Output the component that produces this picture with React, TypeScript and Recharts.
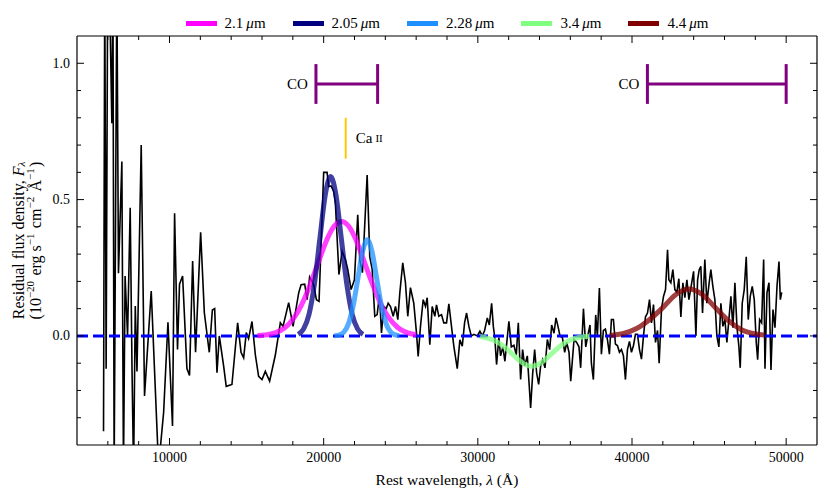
import React from 'react';
import { LineChart, Line, XAxis, YAxis, ReferenceLine, Legend } from 'recharts';

const FONT = 'Liberation Serif';

// Residual spectrum: rest wavelength (Å)
const specWave = [
  5720, 5800, 5890, 5990, 6100, 6260, 6330, 6410, 6585, 6690,
  6910, 7015, 7120, 7280, 7450, 7570, 7670, 7780, 7890, 8165,
  8380, 8815, 9290, 9620, 9900, 10195, 10330, 10520, 10650, 10850,
  11130, 11300, 11500, 11690, 12020, 12260, 12580, 12780, 12930, 13080,
  13230, 13510, 13680, 14050, 14420, 14640, 14810, 14980, 15130, 15350,
  15570, 15780, 16000, 16215, 16495, 16865, 17190, 17365, 17730, 18015,
  18380, 18535, 18770, 18925, 19090, 19350, 19530, 19700, 20000, 20220,
  20325, 20480, 20650, 20760, 20990, 21195, 21410, 21560, 21780, 21995,
  22210, 22340, 22515, 22820, 22990, 23145, 23315, 23470, 23620, 23750,
  23900, 24055, 24185, 24335, 24510, 24660, 24810, 24940, 25130, 25305,
  25455, 25630, 25845, 26020, 26130, 26280, 26455, 26605, 26715, 26885,
  27040, 27210, 27320, 27470, 27645, 27795, 27970, 28120, 28340, 28445,
  28665, 28835, 28990, 29140, 29270, 29420, 29575, 29745, 29965, 30135,
  30290, 30440, 30615, 30745, 30895, 31005, 31105, 31215, 31365, 31475,
  31625, 31755, 31910, 32015, 32170, 32340, 32495, 32625, 32775, 32905,
  33035, 33210, 33315, 33425, 33555, 33685, 33815, 33945, 34075, 34205,
  34355, 34510, 34660, 34790, 34940, 35070, 35200, 35330, 35485, 35635,
  35765, 35915, 36025, 36240, 36410, 36560, 36670, 36850, 37000, 37145,
  37275, 37365, 37495, 37645, 37755, 37885, 38015, 38145, 38275, 38405,
  38535, 38665, 38795, 38925, 39055, 39185, 39315, 39445, 39575, 39705,
  39835, 39965, 40095, 40225, 40355, 40485, 40615, 40745, 40875, 41005,
  41135, 41265, 41395, 41525, 41655, 41760, 41915, 42045, 42175, 42305,
  42390, 42520, 42650, 42780, 42910, 43040, 43170, 43300, 43430, 43560,
  43690, 43820, 43995, 44145, 44255, 44360, 44465, 44575, 44725, 44855,
  45005, 45115, 45245, 45375, 45505, 45635, 45765, 45895, 46025, 46155,
  46285, 46415, 46545, 46675, 46805, 46935, 47020, 47150, 47280, 47410,
  47540, 47670, 47800, 47930, 48060, 48150, 48280, 48410, 48540, 48625,
  48755, 48885, 49015, 49145, 49275, 49405, 49535, 49620, 49710,
];

// Residual flux density (1e-20 erg/s/cm2/Å)
const specFlux = [
  -0.35, 1.3, -0.12, 1.3, 1.3, 0.78, 1.3, -0.5, 1.3, 0.23,
  0.64, -0.5, 0.22, 0.0, 0.47, -0.13, -0.5, 0.11, -0.13, 0.7,
  -0.22, 0.165, -0.48, -0.28, 0.05, -0.33, 0.45, -0.05, 0.19, 0.22,
  -0.12, -0.145, 0.275, -0.06, 0.38, 0.085, -0.06, 0.095, 0.1, -0.135,
  0.0, -0.11, -0.185, -0.178, 0.048, -0.06, -0.08, 0.012, -0.01, 0.053,
  -0.07, -0.148, -0.16, -0.13, -0.166, -0.07, 0.048, 0.035, 0.122, 0.035,
  0.158, 0.188, 0.19, 0.133, 0.216, 0.188, 0.133, 0.127, 0.6, 0.6,
  0.548, 0.55, 0.53, 0.487, 0.225, 0.31, 0.28, 0.245, 0.17, 0.206,
  0.444, 0.28, 0.232, 0.59, 0.29, 0.245, 0.072, 0.078, 0.151, 0.011,
  0.108, 0.1, 0.12, 0.108, 0.072, 0.108, 0.06, 0.158, 0.268, 0.195,
  0.072, 0.177, 0.12, 0.011, -0.075, 0.035, 0.133, 0.108, 0.14, -0.032,
  0.108, 0.072, 0.114, 0.072, 0.078, 0.048, 0.048, 0.118, 0.011, -0.038,
  -0.12, -0.014, -0.038, 0.048, 0.084, 0.035, 0.0, 0.006, 0.0, 0.017,
  0.0, 0.02, 0.066, 0.04, 0.12, 0.035, -0.01, -0.105, -0.006, -0.073,
  -0.04, -0.093, -0.006, 0.054, -0.04, -0.034, -0.07, 0.048, -0.16, -0.05,
  -0.11, -0.073, -0.166, -0.264, -0.14, -0.05, -0.136, -0.178, -0.11, -0.087,
  -0.117, -0.013, -0.05, 0.04, 0.01, 0.066, 0.035, 0.0, -0.006, -0.06,
  -0.024, -0.06, -0.166, -0.013, -0.024, -0.04, -0.117, 0.1, -0.04, 0.005,
  0.04, -0.1, -0.16, 0.077, 0.0, 0.176, -0.067, 0.02, 0.025, -0.013,
  -0.067, 0.06, 0.06, -0.03, -0.035, -0.06, -0.05, -0.073, -0.16, -0.05,
  -0.02, -0.06, -0.035, 0.006, 0.006, -0.05, -0.085, 0.0, 0.07, 0.084,
  0.133, 0.048, 0.115, -0.024, 0.02, -0.1, 0.1, 0.145, 0.17, 0.316,
  0.206, 0.195, 0.243, 0.17, 0.16, 0.21, 0.07, 0.195, 0.14, 0.206,
  0.133, 0.176, 0.237, 0.0, 0.206, 0.243, 0.255, 0.084, 0.28, 0.12,
  0.195, 0.243, 0.182, 0.133, 0.0, -0.04, 0.12, 0.035, 0.06, -0.024,
  0.06, 0.145, 0.03, 0.195, 0.035, -0.04, -0.117, 0.12, 0.17, 0.29,
  0.06, 0.145, 0.182, 0.133, -0.024, -0.087, 0.06, 0.048, 0.28, -0.12,
  0.158, 0.195, -0.125, 0.097, 0.03, 0.182, 0.273, 0.133, 0.16,
];

// Gaussian fit curves
const fit21Wave = [15700, 16500, 17200, 17700, 18300, 18800, 19200, 19700, 20200, 20700, 21150, 21600, 22100, 22600, 23100, 23700, 24200, 24800, 25400, 26000];
const fit21Flux = [0.001, 0.006, 0.02, 0.041, 0.086, 0.143, 0.2, 0.277, 0.352, 0.404, 0.42, 0.404, 0.352, 0.277, 0.2, 0.118, 0.069, 0.031, 0.012, 0.004];

const fit205Wave = [18350, 18700, 19050, 19400, 19750, 20100, 20450, 20800, 21150, 21500, 21850, 22200, 22550];
const fit205Flux = [0.006, 0.026, 0.079, 0.19, 0.355, 0.516, 0.585, 0.516, 0.355, 0.19, 0.079, 0.026, 0.006];

const fit228Wave = [20700, 21030, 21330, 21630, 21930, 22230, 22530, 22830, 23130, 23430, 23730, 24030, 24330, 24630, 24900];
const fit228Flux = [0.001, 0.004, 0.015, 0.048, 0.115, 0.214, 0.311, 0.353, 0.311, 0.214, 0.115, 0.048, 0.015, 0.004, 0.001];

const fit34Wave = [30150, 30375, 31000, 31625, 32250, 32875, 33500, 34125, 34750, 35375, 36000, 36625, 37250];
const fit34Flux = [-0.002, -0.005, -0.015, -0.036, -0.067, -0.098, -0.111, -0.098, -0.067, -0.036, -0.015, -0.005, -0.001];

const fit44Wave = [38550, 39450, 40300, 41150, 42000, 42850, 43700, 44550, 45400, 46250, 47100, 47950, 48600];
const fit44Flux = [0.002, 0.009, 0.027, 0.06, 0.104, 0.152, 0.172, 0.152, 0.104, 0.056, 0.023, 0.008, 0.003];

const fitNames = ['2.1', '2.05', '2.28', '3.4', '4.4'];
const fitColors = ['#FF00FF', '#000080', '#1E90FF', '#80FF80', '#800000'];

// Annotations
const coBandStart = [19500, 41000];
const coBandEnd = [23500, 50000];
const coBarLevel = [0.924];
const coCapRange = [0.851, 0.997];
const caIIWave = [21430];
const caIIRange = [0.65, 0.8];

const xTicks = [6000, 8000, 10000, 12000, 14000, 16000, 18000, 20000, 22000, 24000, 26000, 28000, 30000, 32000, 34000, 36000, 38000, 40000, 42000, 44000, 46000, 48000, 50000];
const yTicks = [-0.3, -0.2, -0.1, 0.0, 0.1, 0.2, 0.3, 0.4, 0.5, 0.6, 0.7, 0.8, 0.9, 1.0];
const xDomain = [4000, 52000];
const yDomain = [-0.4, 1.1];

const toSeries = (w: number[], f: number[]) => w.map((x, i) => ({ w: x, f: f[i] }));
const spectrum = toSeries(specWave, specFlux);
const fits = [
  toSeries(fit21Wave, fit21Flux),
  toSeries(fit205Wave, fit205Flux),
  toSeries(fit228Wave, fit228Flux),
  toSeries(fit34Wave, fit34Flux),
  toSeries(fit44Wave, fit44Flux),
];

const isMajorX = (v: number) => v % 10000 === 0;
const isMajorY = (v: number) => Math.abs(v * 2 - Math.round(v * 2)) < 1e-6;

const XTickBottom = (props: any) => {
  const { x, y, payload } = props;
  const v = payload.value;
  const major = isMajorX(v);
  return (
    <g>
      <line x1={x} x2={x} y1={y} y2={y - (major ? 7 : 4)} stroke="#000" strokeWidth={1} />
      {major && (
        <text x={x} y={y + 12} textAnchor="middle" dominantBaseline="central" fontFamily={FONT} fontSize={14} fill="#000">
          {v}
        </text>
      )}
    </g>
  );
};

const XTickTop = (props: any) => {
  const { x, y, payload } = props;
  const major = isMajorX(payload.value);
  return <line x1={x} x2={x} y1={y} y2={y + (major ? 7 : 4)} stroke="#000" strokeWidth={1} />;
};

const YTickLeft = (props: any) => {
  const { x, y, payload } = props;
  const v = payload.value;
  const major = isMajorY(v);
  return (
    <g>
      <line x1={x} x2={x + (major ? 7 : 4)} y1={y} y2={y} stroke="#000" strokeWidth={1} />
      {major && (
        <text x={x - 7} y={y} textAnchor="end" dominantBaseline="central" fontFamily={FONT} fontSize={14} fill="#000">
          {Math.abs(v).toFixed(1)}
        </text>
      )}
    </g>
  );
};

const YTickRight = (props: any) => {
  const { x, y, payload } = props;
  const major = isMajorY(payload.value);
  return <line x1={x} x2={x - (major ? 7 : 4)} y1={y} y2={y} stroke="#000" strokeWidth={1} />;
};

const XLabel = (props: any) => {
  const vb = props.viewBox || { x: 69, y: 437, width: 740, height: 30 };
  return (
    <text x={vb.x + vb.width / 2} y={vb.y + 34} textAnchor="middle" dominantBaseline="central" fontFamily={FONT} fontSize={15.5} fill="#000">
      Rest wavelength, <tspan fontStyle="italic">λ</tspan> (Å)
    </text>
  );
};

const YLabel = (props: any) => {
  const vb = props.viewBox || { x: 0, y: 28, width: 69, height: 409 };
  const cy = vb.y + vb.height / 2;
  const x1 = vb.x + 10;
  const x2 = vb.x + 27;
  const sup = (s: string) => (
    <>
      <tspan dy={-5} fontSize={11}>{s}</tspan>
      <tspan dy={5}>{'\u200a'}</tspan>
    </>
  );
  return (
    <g>
      <text transform={`translate(${x1},${cy}) rotate(-90)`} textAnchor="middle" dominantBaseline="central" fontFamily={FONT} fontSize={16} fill="#000">
        Residual flux density, <tspan fontStyle="italic">F</tspan>
        <tspan fontStyle="italic" fontSize={11} dy={3}>λ</tspan>
      </text>
      <text transform={`translate(${x2},${cy}) rotate(-90)`} textAnchor="middle" dominantBaseline="central" fontFamily={FONT} fontSize={16} fill="#000">
        (10{sup('−20')} erg s{sup('−1')} cm{sup('−2')} Å{sup('−1')})
      </text>
    </g>
  );
};

const CaLabel = (props: any) => {
  const vb = props.viewBox;
  if (!vb) return null;
  return (
    <text x={vb.x + 10} y={vb.y + vb.height / 2} dominantBaseline="central" fontFamily={FONT} fontSize={15} fill="#000">
      Ca<tspan fontSize={11} dx={3}>II</tspan>
    </text>
  );
};

const renderLegend = () => (
  <div
    style={{
      display: 'flex',
      justifyContent: 'center',
      alignItems: 'center',
      gap: 27,
      height: 18,
      fontFamily: FONT,
      fontSize: 15,
      color: '#000',
    }}
  >
    {fitNames.map((n, i) => (
      <div key={n} style={{ display: 'flex', alignItems: 'center' }}>
        <span style={{ display: 'inline-block', width: 31, height: 5, background: fitColors[i], marginRight: 8 }} />
        <span>
          {n}
          {'\u2009'}
          <i>μ</i>m
        </span>
      </div>
    ))}
  </div>
);

export default function App() {
  return (
    <LineChart width={814} height={483} margin={{ top: 0, right: 0, bottom: 16, left: 0 }}>
      <XAxis
        xAxisId={0}
        dataKey="w"
        type="number"
        domain={xDomain}
        allowDataOverflow
        ticks={xTicks}
        interval={0}
        height={30}
        tickSize={0}
        tickMargin={0}
        tickLine={false}
        axisLine={{ stroke: '#000', strokeWidth: 1.2 }}
        tick={<XTickBottom />}
        label={<XLabel />}
      />
      <XAxis
        xAxisId="top"
        orientation="top"
        dataKey="w"
        type="number"
        domain={xDomain}
        allowDataOverflow
        ticks={xTicks}
        interval={0}
        height={28}
        tickSize={0}
        tickMargin={0}
        tickLine={false}
        axisLine={{ stroke: '#000', strokeWidth: 1.2 }}
        tick={<XTickTop />}
      />
      <YAxis
        yAxisId={0}
        type="number"
        domain={yDomain}
        allowDataOverflow
        ticks={yTicks}
        interval={0}
        width={69}
        tickSize={0}
        tickMargin={0}
        tickLine={false}
        axisLine={{ stroke: '#000', strokeWidth: 1.2 }}
        tick={<YTickLeft />}
        label={<YLabel />}
      />
      <YAxis
        yAxisId="right"
        orientation="right"
        type="number"
        domain={yDomain}
        allowDataOverflow
        ticks={yTicks}
        interval={0}
        width={5}
        tickSize={0}
        tickMargin={0}
        tickLine={false}
        axisLine={{ stroke: '#000', strokeWidth: 1.2 }}
        tick={<YTickRight />}
      />
      <Legend
        layout="horizontal"
        verticalAlign="middle"
        align="center"
        wrapperStyle={{ top: 6, left: 69, width: 740, height: 18 }}
        content={renderLegend}
      />
      <Line
        data={spectrum}
        dataKey="f"
        type="linear"
        stroke="#000"
        strokeWidth={1.6}
        dot={false}
        activeDot={false}
        isAnimationActive={false}
        legendType="none"
      />
      <ReferenceLine y={0} stroke="#0000FF" strokeWidth={3} strokeDasharray="11 5" />
      {fits.map((d, i) => (
        <Line
          key={fitNames[i]}
          data={d}
          dataKey="f"
          name={fitNames[i]}
          type="monotone"
          stroke={fitColors[i]}
          strokeOpacity={0.75}
          strokeWidth={5}
          dot={false}
          activeDot={false}
          isAnimationActive={false}
        />
      ))}
      {coBandStart.map((s, i) => (
        <ReferenceLine
          key={`co-${i}`}
          segment={[
            { x: s, y: coBarLevel[0] },
            { x: coBandEnd[i], y: coBarLevel[0] },
          ]}
          stroke="#800080"
          strokeWidth={3}
          label={{ value: 'CO', position: 'left', offset: 8, fill: '#000', fontSize: 15, fontFamily: FONT }}
        />
      ))}
      {coBandStart.map((s, i) => (
        <ReferenceLine
          key={`cap-l-${i}`}
          segment={[
            { x: s, y: coCapRange[0] },
            { x: s, y: coCapRange[1] },
          ]}
          stroke="#800080"
          strokeWidth={3}
        />
      ))}
      {coBandEnd.map((e, i) => (
        <ReferenceLine
          key={`cap-r-${i}`}
          segment={[
            { x: e, y: coCapRange[0] },
            { x: e, y: coCapRange[1] },
          ]}
          stroke="#800080"
          strokeWidth={3}
        />
      ))}
      <ReferenceLine
        segment={[
          { x: caIIWave[0], y: caIIRange[0] },
          { x: caIIWave[0], y: caIIRange[1] },
        ]}
        stroke="#FFC800"
        strokeWidth={2}
        label={<CaLabel />}
      />
    </LineChart>
  );
}
